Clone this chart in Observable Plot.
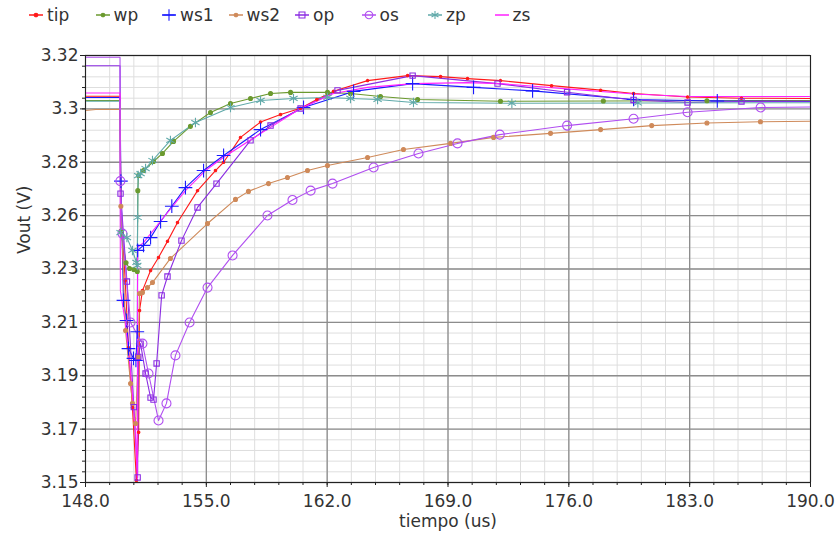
<!DOCTYPE html>
<html><head><meta charset="utf-8">
<script src="https://cdn.jsdelivr.net/npm/d3@7"></script>
<script src="https://cdn.jsdelivr.net/npm/@observablehq/plot@0.6"></script>
<style>
body{margin:0;background:#fff;font-family:"DejaVu Sans",sans-serif;}
#legend{position:relative;height:30px;width:837px;}
.item{position:absolute;top:3px;height:24px;display:flex;align-items:center;font-size:17px;color:#333;}
.item svg{margin-right:3px;}
</style></head><body>
<div id="legend"></div><div id="chart"></div>
<script>
// ---- data (time in us, Vout in V) ----
const seriesNames = ["tip","wp","ws1","ws2","op","os","zp","zs"];

const tipT = [148,150.0,150.05,150.3,150.49,150.72,150.95,151.08,151.13,151.3,151.77,152.23,152.75,153.33,154.49,155.53,156.0,156.98,158.14,159.3,160.46,161.4,162.37,164.34,166.66,168.57,170.13,172.04,175.0,177.84,179.75,182.88,186.0,190];
const tipV = [3.3038,3.3038,3.2600,3.2304,3.2037,3.1799,3.1508,3.1700,3.2185,3.2264,3.2344,3.2396,3.2460,3.2535,3.2662,3.2742,3.2775,3.2874,3.2935,3.2965,3.2990,3.3025,3.3058,3.3100,3.3120,3.3116,3.3108,3.3100,3.3080,3.3062,3.3049,3.3035,3.3030,3.3029];

const wpT = [148,150.0,150.05,150.35,150.55,150.8,151.0,151.03,151.07,151.36,151.94,152.46,153.1,154.08,155.24,156.4,157.56,158.72,159.88,162.02,163.35,165.09,167.24,172.04,178.0,184.0,190];
const wpV = [3.3021,3.3021,3.2500,3.2375,3.2352,3.2348,3.2340,3.2662,3.2722,3.2742,3.2778,3.2810,3.2858,3.2918,3.2973,3.3009,3.3029,3.3049,3.3053,3.3053,3.3049,3.3037,3.3025,3.3018,3.3019,3.3020,3.3021];

const ws1T = [148,150.0,150.05,150.2,150.38,150.49,150.78,150.92,151.0,151.02,151.36,151.77,152.35,153.0,153.79,154.84,156.0,158.14,160.63,163.53,166.95,170.48,173.9,179.75,184.6,190];
const ws1V = [3.3033,3.3033,3.2700,3.2225,3.2145,3.2033,3.1994,3.1986,3.2100,3.2424,3.2444,3.2475,3.2539,3.2600,3.2674,3.2742,3.2802,3.2905,3.2993,3.3057,3.3088,3.3073,3.3059,3.3025,3.3019,3.3017];

const ws2T = [148,148.6,150.0,150.05,150.32,150.61,150.72,150.9,151.05,151.13,151.3,151.59,151.88,152.92,155.07,156.69,157.44,158.6,159.7,160.86,162.02,164.34,166.42,169.15,171.64,174.94,177.84,180.8,184.0,187.1,190];
const ws2V = [3.2981,3.2985,3.2985,3.2600,3.2105,3.1894,3.1815,3.1735,3.2000,3.2252,3.2256,3.2276,3.2296,3.2392,3.2531,3.2627,3.2659,3.2690,3.2714,3.2742,3.2762,3.2794,3.2826,3.2850,3.2874,3.2890,3.2905,3.2921,3.2931,3.2936,3.2938];

const opT = [148,150.0,150.03,150.4,150.8,151.02,151.06,151.19,151.48,151.77,151.94,152.12,152.41,152.75,153.56,154.49,155.59,157.56,158.72,160.46,162.6,166.95,171.87,175.9,179.75,182.88,186.0,190];
const opV = [3.3159,3.3159,3.2650,3.2300,3.1800,3.1520,3.2000,3.2053,3.1934,3.1838,3.1830,3.1974,3.2245,3.2320,3.2463,3.2595,3.2690,3.2862,3.2921,3.2989,3.3061,3.3120,3.3088,3.3054,3.3023,3.3013,3.3017,3.3018];

const osT = [148,150.0,150.02,150.14,150.61,151.3,151.65,152.23,152.69,153.21,154.03,155.07,156.52,158.54,159.99,161.04,162.31,164.69,167.29,169.55,172.0,175.9,179.75,182.88,187.11,190];
const osV = [3.3193,3.3193,3.2700,3.2491,3.2137,3.2053,3.1934,3.1747,3.1815,3.2006,3.2137,3.2276,3.2404,3.2563,3.2625,3.2662,3.2690,3.2754,3.2810,3.2850,3.2885,3.2921,3.2948,3.2974,3.2993,3.2995];

const zpT = [148,150.0,150.03,150.4,150.72,150.95,151.0,151.02,151.05,151.19,151.48,151.88,152.92,154.37,156.4,158.14,160.05,162.02,163.35,164.92,167.0,172.7,180,190];
const zpV = [3.3018,3.3018,3.2495,3.2475,3.2424,3.2376,3.2364,3.2555,3.2722,3.2730,3.2750,3.2782,3.2862,3.2933,3.2993,3.3021,3.3029,3.3033,3.3029,3.3025,3.3013,3.3010,3.3011,3.3012];

const zsT = [148,150.0,150.02,150.3,150.6,150.9,151.0,151.02,151.36,152.52,153.79,154.95,156.0,158.14,160.46,162.37,164.34,167.0,170.13,172.04,175.9,179.75,182.88,186.0,190];
const zsV = [3.3051,3.3051,3.2264,3.2140,3.1950,3.1700,3.1512,3.2436,3.2455,3.2555,3.2662,3.2742,3.2795,3.2889,3.2989,3.3049,3.3073,3.3088,3.3092,3.3088,3.3067,3.3047,3.3037,3.3037,3.3037];

const xTickValues = [148,155,162,169,176,183,190];
const yTickValues = [3.15,3.17125,3.1925,3.21375,3.235,3.25625,3.2775,3.29875,3.32];
const yTickLabels = ["3.15","3.17","3.19","3.21","3.23","3.26","3.28","3.3","3.32"];

// ---- styles ----
const colors = ["#ff1a1a","#6b9a2f","#1a1aff","#cf8a5a","#8a2be2","#b04ef0","#5fa9a9","#ff22ff"];
const markerStyle = {
  tip:{symbol:"circle", r:1.2, filled:true},
  wp:{symbol:"circle", r:2, filled:true},
  ws1:{symbol:"plus", r:4.5, filled:false},
  ws2:{symbol:"circle", r:2, filled:true},
  op:{symbol:"square", r:3, filled:false},
  os:{symbol:"circle", r:4.5, filled:false},
  zp:{symbol:"asterisk", r:4.5, filled:false},
  zs:null
};

const Ts = [tipT,wpT,ws1T,ws2T,opT,osT,zpT,zsT];
const Vs = [tipV,wpV,ws1V,ws2V,opV,osV,zpV,zsV];
const rows = seriesNames.flatMap((s,k) => Ts[k].map((t,i) => ({series:s, t, v:Vs[k][i]})));
const colorOf = Object.fromEntries(seriesNames.map((s,i)=>[s,colors[i]]));
const yLabel = new Map(yTickValues.map((v,i)=>[v,yTickLabels[i]]));

const xMinor = d3.range(0,31).map(i => 148 + i*1.4);
const yMinor = d3.range(0,41).map(i => 3.15 + i*0.00425);

const markerMarks = seriesNames.filter(s => markerStyle[s]).map(s => {
  const m = markerStyle[s];
  return Plot.dot(rows.filter(d => d.series===s && d.t>150 && d.t<190), {
    x:"t", y:"v", symbol:()=>m.symbol, r:m.r,
    stroke: colorOf[s], fill: m.filled ? colorOf[s] : "none", strokeWidth:1.1
  });
});

const chart = Plot.plot({
  width:837, height:509,
  marginLeft:85, marginRight:27, marginTop:25, marginBottom:57,
  style:{fontFamily:"DejaVu Sans, sans-serif", fontSize:"17px", color:"#333", background:"#fff"},
  x:{domain:[148,190], label:null},
  y:{domain:[3.15,3.32], label:null},
  symbol:{type:"identity"},
  color:{domain:seriesNames, range:colors},
  marks:[
    Plot.gridX(xMinor, {stroke:"#dedede", strokeOpacity:1}),
    Plot.gridY(yMinor, {stroke:"#dedede", strokeOpacity:1}),
    Plot.gridX(xTickValues, {stroke:"#8c8c8c", strokeOpacity:1, strokeWidth:1.3}),
    Plot.gridY(yTickValues, {stroke:"#8c8c8c", strokeOpacity:1, strokeWidth:1.3}),
    Plot.axisX(xMinor, {tickSize:3, text:null, label:null, stroke:"#222"}),
    Plot.axisY(yMinor, {tickSize:3, text:null, label:null, stroke:"#222"}),
    Plot.axisX(xTickValues, {tickSize:5, tickPadding:7, tickFormat:d=>d.toFixed(1), label:null, stroke:"#222", fill:"#333"}),
    Plot.axisY(yTickValues, {tickSize:5, tickPadding:2, tickFormat:d=>yLabel.get(d), label:null, stroke:"#222", fill:"#333"}),
    Plot.line(rows, {x:"t", y:"v", z:"series", stroke:"series", strokeWidth:1.1}),
    ...markerMarks,
    Plot.frame({stroke:"#222"}),
    Plot.text(["tiempo (us)"], {frameAnchor:"bottom", dy:44, fill:"#333"}),
    Plot.text(["Vout (V)"], {frameAnchor:"left", dx:-61, dy:-15, rotate:-90, fill:"#333"})
  ]
});
document.getElementById("chart").appendChild(chart);

// ---- legend ----
const legend = d3.select("#legend");
seriesNames.forEach((s,i) => {
  const it = legend.append("div").attr("class","item").style("left", (29 + i*66.5) + "px");
  const sv = it.append("svg").attr("width",15).attr("height",12);
  sv.append("line").attr("x1",0).attr("x2",14).attr("y1",6).attr("y2",6).attr("stroke",colorOf[s]).attr("stroke-width",1.5);
  const m = markerStyle[s];
  if (m) {
    const symMap = {circle:d3.symbolCircle, plus:d3.symbolPlus, square:d3.symbolSquare2, asterisk:d3.symbolAsterisk};
    const sz = m.r < 3 ? 10 : 45;
    sv.append("path").attr("transform","translate(7,6)")
      .attr("d", d3.symbol(symMap[m.symbol], sz)())
      .attr("stroke", colorOf[s]).attr("fill", m.filled ? colorOf[s] : "none").attr("stroke-width",1.1);
  }
  it.append("span").text(s);
});
</script>
</body></html>
